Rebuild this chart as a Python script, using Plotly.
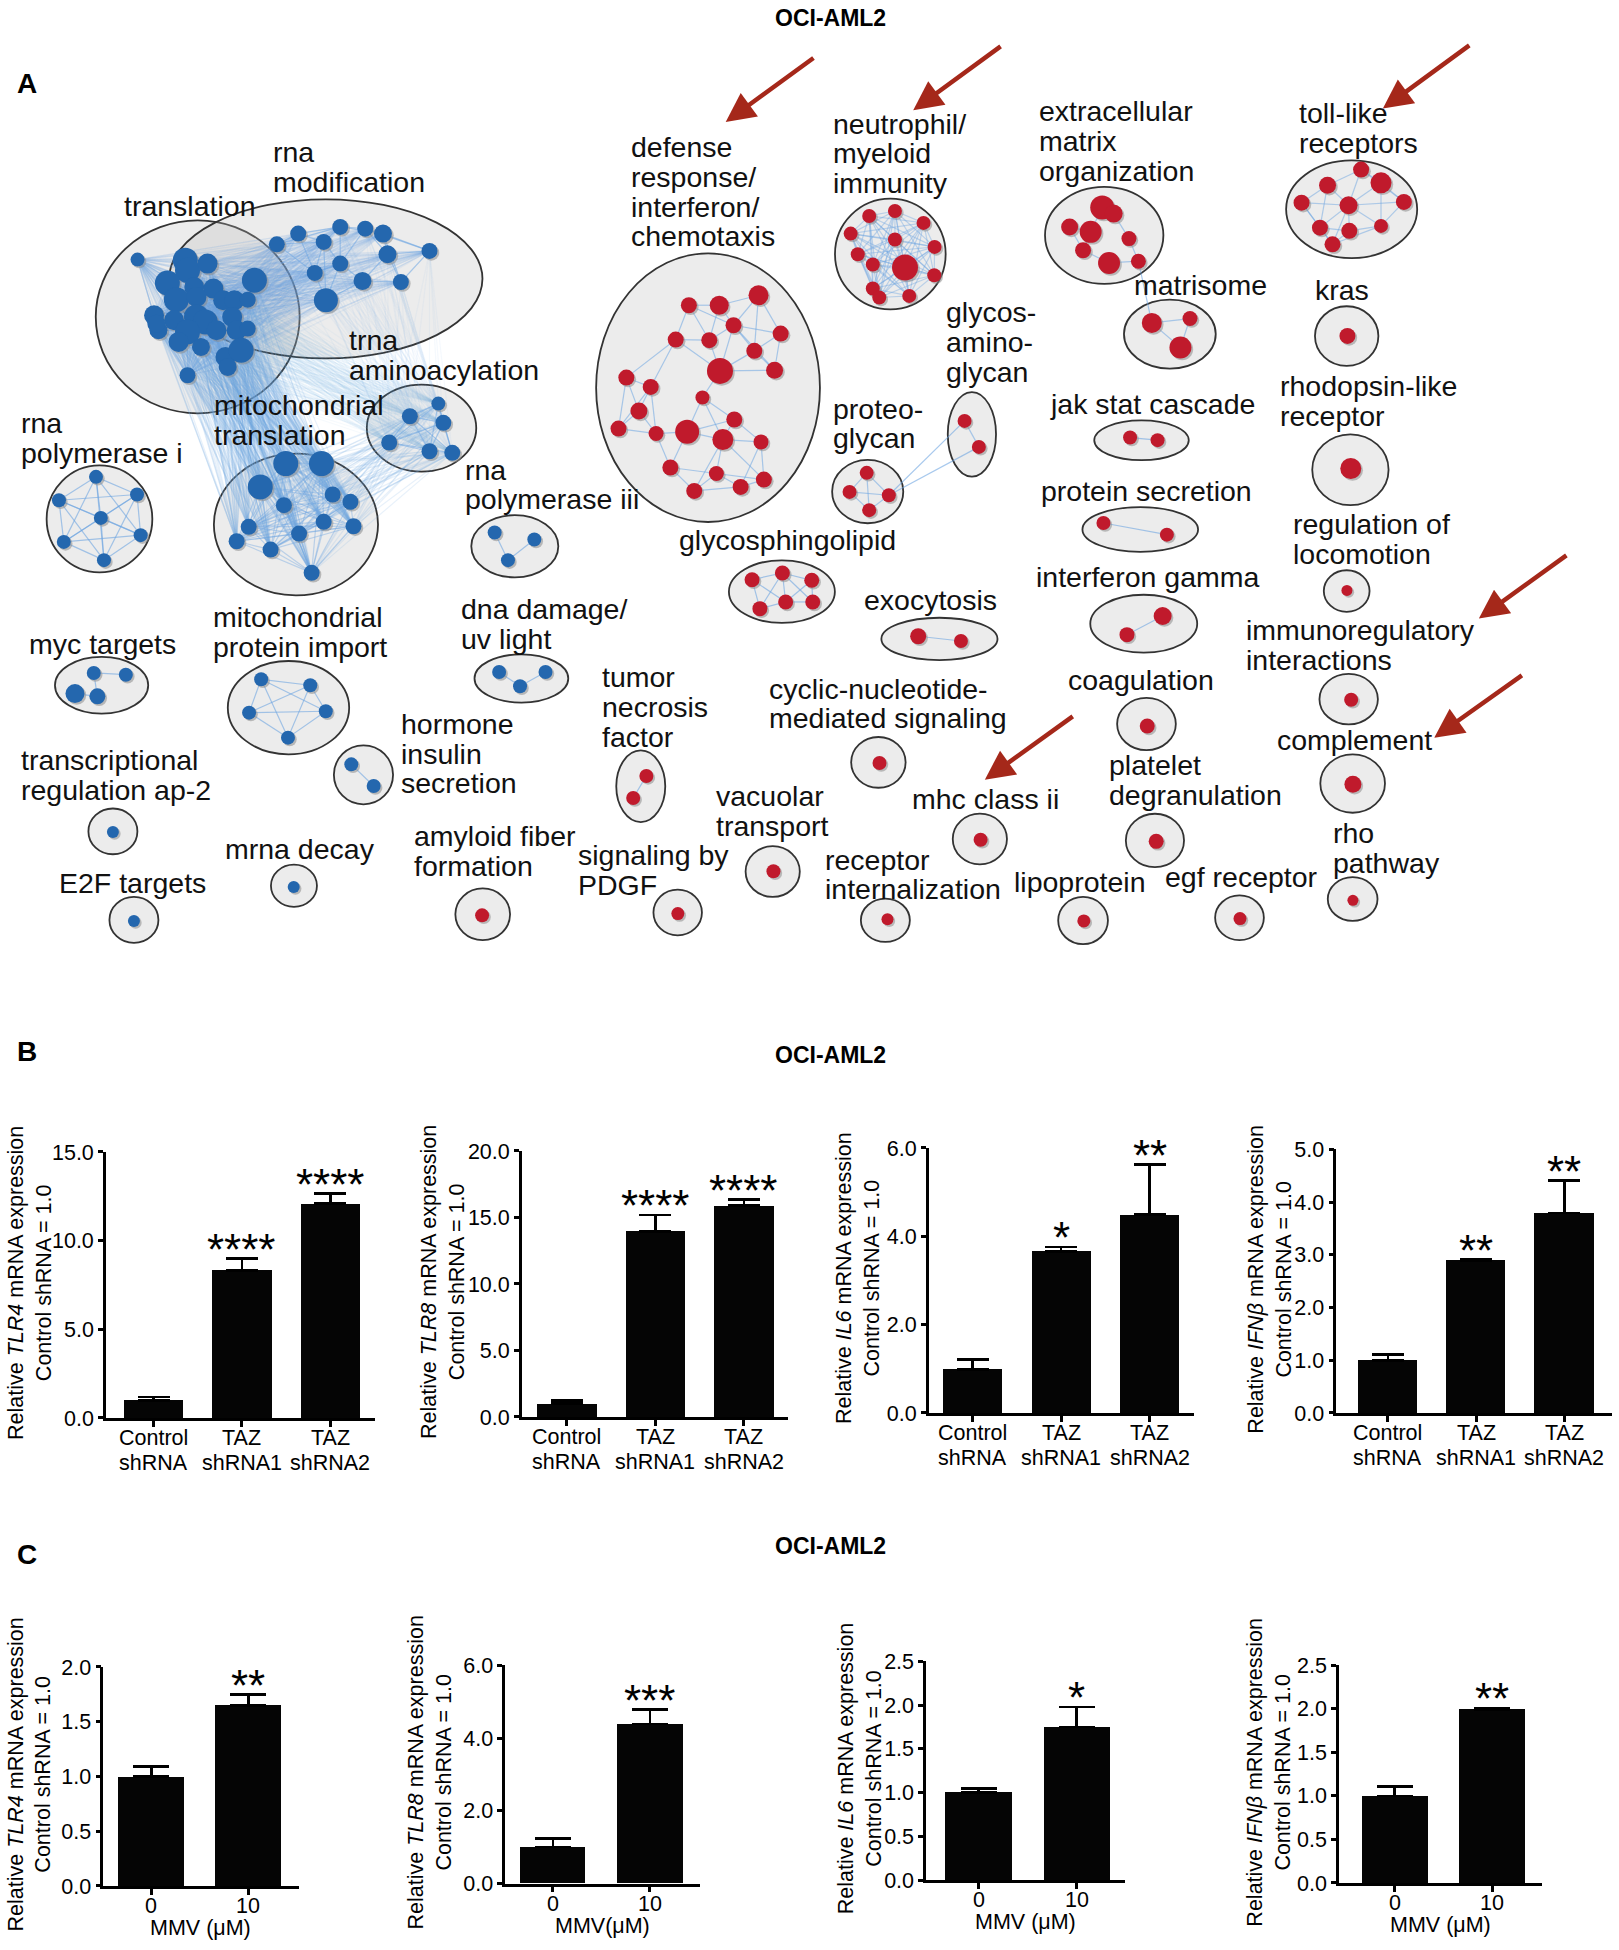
import plotly.graph_objects as go

W, H = 1619, 1950
NW, NH = 1302, 1568          # network frame units
SANS = "Liberation Sans, Arial, Helvetica, sans-serif"

# ======================= Panel A : enrichment map data =======================
# nodes: (x, y, marker size px)
N_TRANSLATION = [(110.6,208.5,14),(149,209,25),(150.8,217.1,25),(166.9,211.7,20),(134.6,227.3,25),
                 (156.2,230.5,20),(171.6,231.8,20),(204.6,225.1,25),(141.8,240.7,25),(158,238.5,20),
                 (179.5,241.2,20),(188.5,241.2,20),(199.2,240.7,16),(123.9,253.3,20),(140,257.3,20),
                 (158,254.6,25),(165.1,258.6,25),(186.7,254.6,20),(127.4,265.3,18),(150.8,266.7,25),
                 (174.1,265.3,20),(190.3,265.3,20),(199.2,264,16),(143.6,274.7,20),(161.6,278.7,18),
                 (181.3,286.8,20),(193.9,281.4,25),(183.1,294.8,18),(150.8,301.5,16),(125.7,260,18)]
N_RNAMOD = [(239.8,187.6,16),(273.6,182.2,16),(293.7,183.6,16),(308,187.6,18),(222.6,196.2,16),
            (260.3,194.3,16),(311.6,204.2,18),(345.4,201.5,16),(273.6,211.7,16),(253.1,219.2,16),
            (291.5,225.7,18),(322.4,226.5,16),(262.1,241.2,24)]
N_TRNA = [(352.5,324.3,14),(329.6,334.5,16),(356.5,339.8,16),(313,355.6,16),(345.4,362.6,16),(363.7,363.9,16)]
N_MITOTRANS = [(229.8,372.5,25),(258.5,372.5,25),(209.3,391.3,25),(267.5,397.4,16),(281.8,403.3,16),
               (228.3,406,16),(200,423.4,16),(240.5,428.8,16),(260.3,419.4,16),(284.3,422.9,16),
               (190.3,435,16),(217.6,441.7,16),(250.6,460.4,16)]
N_POL1 = [(77.2,383.2,14),(47.4,402,14),(110.2,397.4,14),(81.1,416.2,14),(51.3,435.5,14),(113.1,430.1,14),(83.6,450.2,14)]
N_POL3 = [(397.8,428,14),(429.7,433.6,14),(408.5,450.2,14)]
N_DEFENSE = [(610,237.2,20),(554,245.2,16),(578.4,245.2,19),(589.9,261.3,16),(543.4,272.8,16),
             (570.4,273.3,16),(627.8,268,16),(606.6,281.9,16),(579,298,26),(622.9,297.5,17),
             (503.7,303.4,16),(523.3,310.9,16),(564.9,319.4,14),(513.8,330.2,17),(497.4,344.4,16),
             (527.6,348.4,15),(552.6,347,24),(581.3,353.2,21),(590.5,337.1,16),(612,355.1,15),
             (539.1,375.7,16),(576.1,380.5,15),(595.6,391.3,16),(614.3,385.4,16),(558.3,394.5,16)]
N_NEUTRO = [(699,173.4,14),(719.7,169.4,14),(742.7,179,14),(684.1,187.6,14),(719.7,192.4,14),
            (751.6,198.3,14),(689.8,204.2,14),(701.9,212.5,14),(727.8,214.9,26),(751.3,221.1,14),
            (701.9,231.8,14),(707.1,239,14),(731.2,237.7,14)]
N_PROTEOGLYCAN = [(697,380,14),(683.2,395.3,14),(714.8,398,14),(699,410,14)]
N_GAG = [(775.7,338.2,14),(787.2,359.1,14)]
N_ECM = [(886.4,166.7,24),(895.6,171.5,18),(860.2,182.2,17),(877.1,186.2,22),(907.9,191.6,15),
         (871,201,16),(891.9,211.2,22),(915.5,209.8,15)]
N_MATRISOME = [(926.3,259.4,20),(957,255.9,15),(949.3,279.2,22)]
N_TOLL = [(1094.6,136.1,16),(1067.6,148.7,17),(1110.6,146.8,21),(1046.7,162.7,16),(1084.5,164.8,18),
          (1129,162.1,16),(1061.5,182.8,16),(1085.1,185.4,16),(1110.6,181.4,14),(1071.6,196.2,16)]
N_KRAS = [(1083.6,269.9,16)]
N_JAK = [(908.8,351.6,14),(930.9,353.7,14)]
N_RHODOPSIN = [(1086.3,376.5,21)]
N_PROTSEC = [(887.4,420.3,14),(938.4,429.7,14)]
N_IFNG = [(935,495.1,18),(906.3,510.1,15)]
N_COAG = [(922.6,583.5,15)]
N_PLATELET = [(929.8,676.3,15)]
N_LIPO = [(871.6,740.3,13)]
N_EGF = [(997.2,738.4,13)]
N_LOCO = [(1083.2,474.5,11)]
N_IMMREG = [(1086.6,562.4,14)]
N_COMPLEMENT = [(1088,630.4,17)]
N_RHO = [(1088,723.7,11)]
N_GSL = [(604.8,465.9,15),(629.2,460.5,15),(652.8,466.4,15),(611.1,489.2,15),(631.8,483.8,15),(653.6,483.8,15)]
N_EXO = [(738.4,511.4,16),(772.8,515.2,14)]
N_TNF = [(519.8,623.7,14),(509.2,641.4,14)]
N_CYCLIC = [(707.3,613.3,14)]
N_MHC = [(788.6,675,14)]
N_VACUOLAR = [(622,700.4,14)]
N_PDGF = [(545.1,734.4,13)]
N_RECINT = [(713.7,739,12)]
N_MYC = [(75.4,540.9,14),(101.2,542.3,14),(60.3,557.5,19),(78.3,559.7,16)]
N_MITOIMP = [(210,546,14),(249.5,550.8,14),(200.3,572.8,14),(262,571.7,14),(231.6,592.9,14)]
N_DNA = [(401.4,540.1,14),(438.7,540.1,14),(418.2,551.6,14)]
N_HORMONE = [(282.5,614.4,14),(300.5,631.8,14)]
N_AP2 = [(90.8,668.8,12)]
N_MRNA = [(236.2,713,12)]
N_E2F = [(107.7,740.3,12)]
N_AMYLOID = [(387.7,735.8,14)]

CL_NODES = [N_TRANSLATION, N_RNAMOD, N_TRNA, N_MITOTRANS, N_POL1, N_POL3, N_DEFENSE, N_NEUTRO,
            N_PROTEOGLYCAN, N_GAG, N_ECM, N_MATRISOME, N_TOLL, N_KRAS, N_JAK, N_RHODOPSIN, N_PROTSEC,
            N_IFNG, N_COAG, N_PLATELET, N_LIPO, N_EGF, N_LOCO, N_IMMREG, N_COMPLEMENT, N_RHO, N_GSL,
            N_EXO, N_TNF, N_CYCLIC, N_MHC, N_VACUOLAR, N_PDGF, N_RECINT, N_MYC, N_MITOIMP, N_DNA,
            N_HORMONE, N_AP2, N_MRNA, N_E2F, N_AMYLOID]
CL_GROUP = ["b"] * 6 + ["r"] * 28 + ["b"] * 7 + ["r"]
CL_CX = [159, 262, 339, 238, 80, 414, 569.4, 716, 697.8, 781.6, 888, 940.8, 1087, 1083, 918, 1086, 917,
         919.8, 922, 928.8, 871, 996.8, 1083, 1084.6, 1087.8, 1087.8, 628.8, 755.5, 515.3, 706.4, 788,
         621.4, 545, 712, 81.7, 232, 419.3, 292.3, 90.8, 236.4, 107.7, 388.2]
CL_CY = [254.5, 224, 344, 421.5, 417, 439, 311.5, 204, 395, 349, 189, 268.4, 168, 270, 353.8, 377.5, 425.5,
         501.3, 582, 675.6, 740, 737.8, 475, 562, 629.8, 722.7, 475.5, 513.5, 632, 612.8, 674.4, 700.6,
         733.5, 739.8, 550.8, 568.8, 545.3, 622.8, 668.3, 712, 739.5, 735]
CL_RX = [82, 126, 44, 66, 42.5, 35, 90, 44.5, 28.6, 19.4, 47.6, 36.9, 52.7, 25.5, 38, 30.7, 46.5, 43, 23.6,
         23.4, 20, 19.6, 18.4, 23.5, 26, 20, 42.6, 46.7, 19.7, 21.9, 21.8, 21.8, 19.5, 19.7, 37.5, 48.8,
         37.7, 23.8, 19.7, 18.5, 19.7, 22]
CL_RY = [77.6, 64, 35, 57, 43, 25, 108, 44.6, 25.5, 34, 39, 27.7, 39.3, 24, 16, 28.5, 18, 23.3, 21, 21.5,
         19, 18, 16.7, 20.3, 23.5, 17.6, 25.2, 17, 28.8, 20.4, 20.4, 20.4, 18.4, 17.4, 22.8, 37.5, 19.4,
         23.7, 18.4, 17, 18.5, 20.8]
CL_LABEL = ["translation", "rna\nmodification", "trna\naminoacylation", "mitochondrial\ntranslation",
            "rna\npolymerase i", "rna\npolymerase iii", "defense\nresponse/\ninterferon/\nchemotaxis",
            "neutrophil/\nmyeloid\nimmunity", "proteo-\nglycan", "glycos-\namino-\nglycan",
            "extracellular\nmatrix\norganization", "matrisome", "toll-like\nreceptors", "kras",
            "jak stat cascade", "rhodopsin-like\nreceptor", "protein secretion", "interferon gamma",
            "coagulation", "platelet\ndegranulation", "lipoprotein", "egf receptor", "regulation of\nlocomotion",
            "immunoregulatory\ninteractions", "complement", "rho\npathway", "glycosphingolipid", "exocytosis",
            "tumor\nnecrosis\nfactor", "cyclic-nucleotide-\nmediated signaling", "mhc class ii",
            "vacuolar\ntransport", "signaling by\nPDGF", "receptor\ninternalization", "myc targets",
            "mitochondrial\nprotein import", "dna damage/\nuv light", "hormone\ninsulin\nsecretion",
            "transcriptional\nregulation ap-2", "mrna decay", "E2F targets", "amyloid fiber\nformation"]
CL_LX = [98.7, 219, 280, 171.6, 16, 373, 506.6, 668.9, 668.9, 759.9, 835, 910.9, 1043.6, 1056.8, 843.3,
         1028.6, 836.3, 832, 858.1, 891.1, 815, 936.4, 1039.3, 1001.5, 1025.9, 1070.9, 545.1, 693.9, 483.3,
         617.4, 732.3, 575.2, 464.1, 662.3, 22.3, 170.5, 369.8, 321.3, 16.2, 180.2, 46.7, 332.1]
CL_LY = [165, 122, 273.4, 325.6, 339.8, 377.3, 117.9, 99.1, 328.3, 250.5, 89, 229.1, 90.6, 233, 324.3,
         310.3, 394.5, 463.7, 546.8, 615.2, 709, 705, 421.4, 506.6, 594.5, 669.6, 434.3, 482, 544.1, 553.5,
         642, 640.1, 687.5, 691, 517.3, 495.9, 489.2, 581.7, 611.1, 682.2, 709.8, 672.2]
CL_EDGES = ["all", "knn4", "all", "all", "all", "knn1", "knn4", "all", "all", "all", "knn2", "all", "knn4",
            "none", "all", "none", "all", "all", "none", "none", "none", "none", "none", "none", "none",
            "none", "knn3", "all", "all", "none", "none", "none", "none", "none", "knn1", "all", "knn1",
            "all", "none", "none", "none", "none"]
CL_EDGE_ALPHA = [0.25, 0.55, 0.55, 0.4, 0.6, 0.6, 0.55, 0.4, 0.55, 0.55, 0.55, 0.55, 0.5] + [0.6] * 29
# links between clusters: (cluster a, cluster b, mode, alpha)
INTER_EDGES = [(0, 3, "all", 0.16), (0, 1, "all", 0.11), (3, 2, "all", 0.16), (1, 2, "all", 0.07),
               (0, 2, "all", 0.06), (10, 11, "near1", 0.6), (8, 9, "near2", 0.6)]
# red arrows: tail -> head
ARROW_TAIL = [(655.4, 45.5), (805.9, 36.2), (1182.8, 35.4), (1260.9, 445.5), (1225.1, 542), (863.9, 575)]
ARROW_HEAD = [(583.6, 97.8), (734.4, 88.4), (1112.1, 87.1), (1189.3, 497.2), (1153.4, 592.9), (792, 626.7)]

# ======================= Panel B data =======================
B_CATS = ["Control\nshRNA", "TAZ\nshRNA1", "TAZ\nshRNA2"]
B_TLR4 = [1.0, 8.33, 12.09]
B_TLR4_ERR = [0.18, 0.65, 0.56]
B_TLR4_SIG = ["", "****", "****"]
B_TLR8 = [1.0, 13.96, 15.9]
B_TLR8_ERR = [0.23, 1.24, 0.45]
B_TLR8_SIG = ["", "****", "****"]
B_IL6 = [0.99, 3.66, 4.49]
B_IL6_ERR = [0.22, 0.1, 1.14]
B_IL6_SIG = ["", "*", "**"]
B_IFNB = [1.0, 2.89, 3.79]
B_IFNB_ERR = [0.11, 0.02, 0.62]
B_IFNB_SIG = ["", "**", "**"]

# ======================= Panel C data =======================
C_CATS = ["0", "10"]
C_TLR4 = [1.0, 1.65]
C_TLR4_ERR = [0.09, 0.1]
C_TLR4_SIG = ["", "**"]
C_TLR8 = [1.0, 4.38]
C_TLR8_ERR = [0.24, 0.4]
C_TLR8_SIG = ["", "***"]
C_IL6 = [1.0, 1.75]
C_IL6_ERR = [0.05, 0.23]
C_IL6_SIG = ["", "*"]
C_IFNB = [1.0, 1.99]
C_IFNB_ERR = [0.11, 0.02]
C_IFNB_SIG = ["", "**"]

GENES = ["TLR4", "TLR8", "IL6", "IFN\u03b2"]
B_YMAX = [15, 20, 6, 5]
B_DTICK = [5, 5, 2, 1]
C_YMAX = [2, 6, 2.5, 2.5]
C_DTICK = [0.5, 2, 0.5, 0.5]
C_XTITLES = ["MMV (\u03bcM)", "MMV(\u03bcM)", "MMV (\u03bcM)", "MMV (\u03bcM)"]

# vertical placement calibration (page px)
def PY(v):
    return 1.01245 * v - 10.83

NET_Y_RANGE = [1557.35, 8.6]

# ======================= build figure =======================
fig = go.Figure()
shapes, annotations = [], []

def knn_pairs(pts, k):
    s = set()
    for i in range(len(pts)):
        d = sorted(((pts[i][0] - pts[j][0]) ** 2 + (pts[i][1] - pts[j][1]) ** 2, j)
                   for j in range(len(pts)) if j != i)
        for _, j in d[:k]:
            s.add((min(i, j), max(i, j)))
    return sorted(s)

edge_groups = {}
def add_edge(p, q, a):
    g = edge_groups.setdefault(a, ([], []))
    g[0].extend([p[0], q[0], None])
    g[1].extend([p[1], q[1], None])

for ci, pts in enumerate(CL_NODES):
    mode = CL_EDGES[ci]
    a = CL_EDGE_ALPHA[ci]
    if mode == "all":
        prs = [(i, j) for i in range(len(pts)) for j in range(i + 1, len(pts))]
    elif mode.startswith("knn"):
        prs = knn_pairs(pts, int(mode[3:]))
    else:
        prs = []
    for i, j in prs:
        add_edge(pts[i], pts[j], a)

for ca, cb, mode, a in INTER_EDGES:
    A, B = CL_NODES[ca], CL_NODES[cb]
    if mode == "all":
        for p in A:
            for q in B:
                add_edge(p, q, a)
    else:
        n = int(mode[4:])
        d = sorted(((p[0] - q[0]) ** 2 + (p[1] - q[1]) ** 2, ip, iq)
                   for ip, p in enumerate(A) for iq, q in enumerate(B))
        for _, ip, iq in d[:n]:
            add_edge(A[ip], B[iq], a)

for a, (ex, ey) in sorted(edge_groups.items()):
    fig.add_trace(go.Scatter(x=ex, y=ey, mode="lines", xaxis="x", yaxis="y", hoverinfo="skip",
                             line=dict(color=f"rgba(110,165,225,{a})", width=1.2)))

for ci in range(len(CL_NODES)):
    shapes.append(dict(type="circle", xref="x", yref="y", layer="below",
                       x0=CL_CX[ci] - CL_RX[ci], x1=CL_CX[ci] + CL_RX[ci],
                       y0=CL_CY[ci] - CL_RY[ci], y1=CL_CY[ci] + CL_RY[ci],
                       fillcolor="rgba(185,185,185,0.27)", line=dict(color="#333333", width=1.8)))

sx, sy, ss = [], [], []
node_sets = {"b": ([], [], []), "r": ([], [], [])}
for ci, pts in enumerate(CL_NODES):
    g = node_sets[CL_GROUP[ci]]
    for x, y, s in pts:
        sx.append(x + 1.4); sy.append(y + 1.4); ss.append(s)
        g[0].append(x); g[1].append(y); g[2].append(s)
fig.add_trace(go.Scatter(x=sx, y=sy, mode="markers", xaxis="x", yaxis="y", hoverinfo="skip",
                         marker=dict(size=ss, color="rgba(140,140,140,0.55)", opacity=1, line=dict(width=0))))
for key, col in (("b", "#2467AE"), ("r", "#C01A2C")):
    xs, ys, s = node_sets[key]
    fig.add_trace(go.Scatter(x=xs, y=ys, mode="markers", xaxis="x", yaxis="y", hoverinfo="skip",
                             marker=dict(size=s, color=col, opacity=1, line=dict(width=0))))

LINE_STEP = 24
for ci, lab in enumerate(CL_LABEL):
    for li, line in enumerate(lab.split("\n")):
        annotations.append(dict(x=CL_LX[ci], y=CL_LY[ci] + li * LINE_STEP, xref="x", yref="y",
                                text=line, showarrow=False, xanchor="left", yanchor="middle",
                                borderpad=0, font=dict(family=SANS, size=28.5, color="#111111")))

for (tx, ty), (hx, hy) in zip(ARROW_TAIL, ARROW_HEAD):
    annotations.append(dict(x=hx, y=hy, ax=tx, ay=ty, xref="x", yref="y", axref="x", ayref="y",
                            text="", showarrow=True, arrowhead=2, arrowsize=1.3, arrowwidth=4.5,
                            arrowcolor="#A5281A", standoff=0))

layout_axes = dict(
    xaxis=dict(domain=[0, 1], range=[0, NW], visible=False, fixedrange=True),
    yaxis=dict(domain=[0, 1], range=NET_Y_RANGE, visible=False, fixedrange=True),
)

B_SETS = [(B_TLR4, B_TLR4_ERR, B_TLR4_SIG), (B_TLR8, B_TLR8_ERR, B_TLR8_SIG),
          (B_IL6, B_IL6_ERR, B_IL6_SIG), (B_IFNB, B_IFNB_ERR, B_IFNB_SIG)]
C_SETS = [(C_TLR4, C_TLR4_ERR, C_TLR4_SIG), (C_TLR8, C_TLR8_ERR, C_TLR8_SIG),
          (C_IL6, C_IL6_ERR, C_IL6_SIG), (C_IFNB, C_IFNB_ERR, C_IFNB_SIG)]
# (axis left px, right px, top px, bottom px, x range, y-title centre px)
B_BOX = [(105.9, 374.5, 1151.7, 1417.7, [-0.54, 2.5], 30),
         (521.8, 787.8, 1150.7, 1416.7, [-0.507, 2.495], 443),
         (928.7, 1194.4, 1147.7, 1412.7, [-0.495, 2.507], 858.5),
         (1336.3, 1612.4, 1149, 1412.7, [-0.585, 2.545], 1270.5)]
C_BOX = [(103.3, 298.6, 1666.7, 1885.7, [-0.495, 1.516], 30),
         (505.2, 700, 1665, 1883.3, [-0.49, 1.515], 430),
         (926.1, 1124.8, 1661, 1880, [-0.536, 1.49], 859.5),
         (1338.9, 1541.7, 1665, 1882.7, [-0.57, 1.507], 1269.5)]

TICKFONT = dict(family=SANS, size=21.5, color="black")
charts = []
for i in range(4):
    v, e, s = B_SETS[i]
    charts.append((v, e, s, B_CATS, B_YMAX[i], B_DTICK[i], GENES[i]) + B_BOX[i] + (None, 0.67, 16))
for i in range(4):
    v, e, s = C_SETS[i]
    charts.append((v, e, s, C_CATS, C_YMAX[i], C_DTICK[i], GENES[i]) + C_BOX[i] + (C_XTITLES[i], 0.675, 18))

for k, (v, e, s, cats, ymax, dt, gene, l, r, t, b, xr, tx, xtitle, bw, capw) in enumerate(charts, start=2):
    xa, ya = f"x{k}", f"y{k}"
    idx = list(range(len(v)))
    fig.add_trace(go.Bar(x=idx, y=v, xaxis=xa, yaxis=ya, width=bw, hoverinfo="skip",
                         marker=dict(color="#050505", line=dict(width=0)),
                         error_y=dict(type="data", array=e, arrayminus=[0] * len(e), symmetric=False,
                                      color="black", thickness=2.5, width=capw)))
    layout_axes[f"xaxis{k}"] = dict(domain=[l / W, r / W], anchor=ya, range=xr, showline=True, linewidth=2.5,
                                   linecolor="black", ticks="outside", ticklen=6, tickwidth=2.5,
                                   tickcolor="black", tickvals=idx, showticklabels=False,
                                   showgrid=False, zeroline=False, fixedrange=True)
    layout_axes[f"yaxis{k}"] = dict(domain=[1 - PY(b) / H, 1 - PY(t) / H], anchor=xa, range=[0, ymax], dtick=dt,
                                   tick0=0, tickformat=".1f", showline=True, linewidth=2.5, linecolor="black",
                                   ticks="outside", ticklen=5, tickwidth=2.5, tickcolor="black",
                                   tickfont=TICKFONT, showgrid=False, zeroline=False, fixedrange=True)
    for j, cat in enumerate(cats):
        for li, line in enumerate(cat.split("\n")):
            annotations.append(dict(x=j, y=1 - PY(b + 20 + li * 25.5) / H, xref=xa, yref="paper", text=line,
                                    showarrow=False, xanchor="center", yanchor="middle", font=TICKFONT))
    annotations.append(dict(x=tx / W, y=1 - PY((t + b) / 2 - 2) / H, xref="paper", yref="paper",
                            text=f"Relative <i>{gene}</i> mRNA expression<br>Control shRNA = 1.0",
                            textangle=-90, showarrow=False, xanchor="center", yanchor="middle",
                            font=dict(family=SANS, size=21.5, color="black")))
    for j, sig in enumerate(s):
        if sig:
            annotations.append(dict(x=j, y=v[j] + e[j], xref=xa, yref=ya, text=sig, showarrow=False,
                                    xanchor="center", yanchor="middle", yshift=9,
                                    font=dict(family=SANS, size=44, color="black")))
    if xtitle:
        annotations.append(dict(x=(l + r) / 2 / W, y=1 - PY(b + 42) / H, xref="paper", yref="paper",
                                text=xtitle, showarrow=False, xanchor="center", yanchor="middle",
                                font=TICKFONT))

for letter, (px, py) in zip(["A", "B", "C"], [(27, 83), (27.4, 1050.8), (27.4, 1554.4)]):
    annotations.append(dict(x=px / W, y=1 - PY(py) / H, xref="paper", yref="paper", text=f"<b>{letter}</b>",
                            showarrow=False, xanchor="center", yanchor="middle",
                            font=dict(family=SANS, size=28, color="black")))
for py in (17.4, 1054.5, 1545.7):
    annotations.append(dict(x=830.6 / W, y=1 - PY(py) / H, xref="paper", yref="paper",
                            text="<b>OCI-AML2</b>", showarrow=False, xanchor="center", yanchor="middle",
                            font=dict(family=SANS, size=23, color="black")))

fig.update_layout(width=W, height=H, margin=dict(l=0, r=0, t=0, b=0), showlegend=False,
                  paper_bgcolor="white", plot_bgcolor="rgba(0,0,0,0)", shapes=shapes,
                  annotations=annotations, bargap=0, **layout_axes)
fig.write_html("out.html", config={"displayModeBar": False},
               post_script="document.body.style.margin='0px';")
